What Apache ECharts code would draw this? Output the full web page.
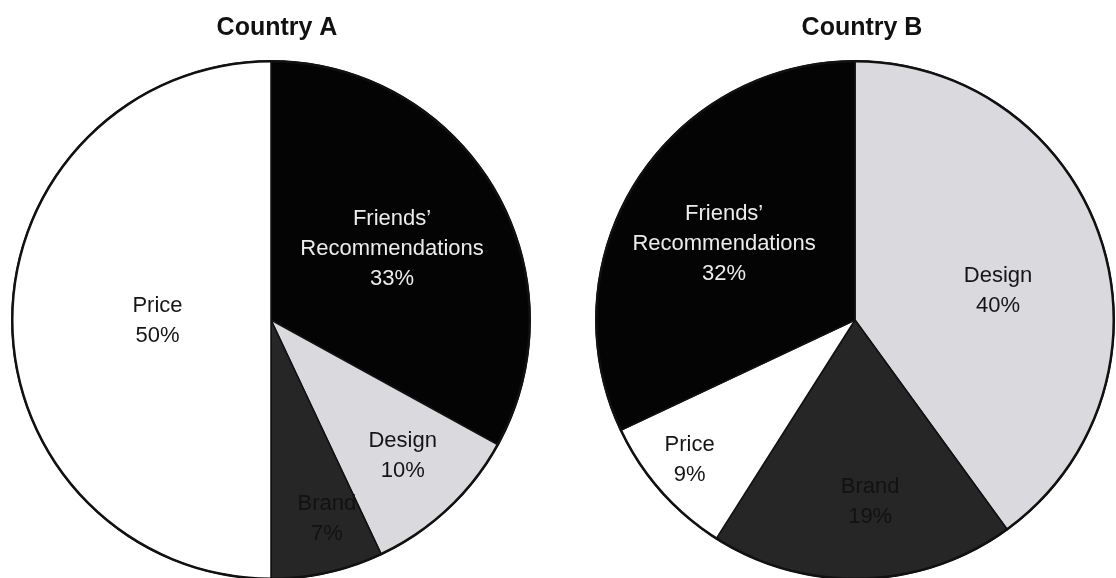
<!DOCTYPE html>
<html>
<head>
<meta charset="utf-8">
<script src="https://cdn.jsdelivr.net/npm/echarts@6/dist/echarts.min.js"></script>
<style>
html,body{margin:0;padding:0;background:#fff;}
#chart{width:1116px;height:578px;}
</style>
</head>
<body>
<div id="chart"></div>
<script>
// ---- data ----
const titles = ["Country A", "Country B"];
const categoriesA = ["Friends’ Recommendations", "Design", "Brand", "Price"];
const valuesA = [33, 10, 7, 50];
const categoriesB = ["Design", "Brand", "Price", "Friends’ Recommendations"];
const valuesB = [40, 19, 9, 32];

// ---- styling (not data) ----
const sliceColor = {
  "Friends’ Recommendations": "#040404",
  "Design": "#d9d9de",
  "Brand": "#262626",
  "Price": "#ffffff"
};
const labelColor = {
  "Friends’ Recommendations": "#ececec",
  "Design": "#151515",
  "Brand": "#121212",
  "Price": "#151515"
};
const labelText = {
  "Friends’ Recommendations": "Friends’\nRecommendations"
};
const offsetsA = {
  "Friends’ Recommendations": [7, -4],
  "Design": [41, 39],
  "Brand": [27, 70],
  "Price": [19, 1]
};
const offsetsB = {
  "Friends’ Recommendations": [-19, -5],
  "Design": [17, 12],
  "Brand": [11, 50],
  "Price": [-66, 52]
};

function buildData(cats, vals, offs) {
  return cats.map((c, i) => ({
    name: c,
    value: vals[i],
    itemStyle: { color: sliceColor[c] },
    label: { offset: offs[c], color: labelColor[c] }
  }));
}

function pieSeries(cats, vals, offs, cx) {
  return {
    type: 'pie',
    center: [cx, 320],
    radius: 259,
    startAngle: 90,
    clockwise: true,
    avoidLabelOverlap: false,
    silent: true,
    itemStyle: { borderColor: '#111', borderWidth: 1.5 },
    label: {
      show: true,
      position: 'inside',
      fontFamily: 'Liberation Sans, Arial, sans-serif',
      fontSize: 22,
      lineHeight: 30,
      align: 'center',
      formatter: p => (labelText[p.name] || p.name) + '\n' + p.value + '%'
    },
    labelLine: { show: false },
    emphasis: { disabled: true },
    data: buildData(cats, vals, offs)
  };
}

const titleStyle = { fontFamily: 'Liberation Sans, Arial, sans-serif', fontSize: 25, fontWeight: 'bold', color: '#111' };

const chart = echarts.init(document.getElementById('chart'), null, { renderer: 'canvas' });
chart.setOption({
  backgroundColor: '#ffffff',
  animation: false,
  title: [
    { text: titles[0], left: 272, top: 11, textAlign: 'center', textStyle: titleStyle },
    { text: titles[1], left: 857, top: 11, textAlign: 'center', textStyle: titleStyle }
  ],
  series: [
    pieSeries(categoriesA, valuesA, offsetsA, 271),
    pieSeries(categoriesB, valuesB, offsetsB, 855),
    // outer outline rings
    {
      type: 'pie', center: [271, 320], radius: [257.5, 260], silent: true, startAngle: 90,
      label: { show: false }, labelLine: { show: false }, emphasis: { disabled: true },
      itemStyle: { color: '#111' }, data: [{ value: 1, name: 'outlineA' }]
    },
    {
      type: 'pie', center: [855, 320], radius: [257.5, 260], silent: true, startAngle: 90,
      label: { show: false }, labelLine: { show: false }, emphasis: { disabled: true },
      itemStyle: { color: '#111' }, data: [{ value: 1, name: 'outlineB' }]
    }
  ]
});
</script>
</body>
</html>
